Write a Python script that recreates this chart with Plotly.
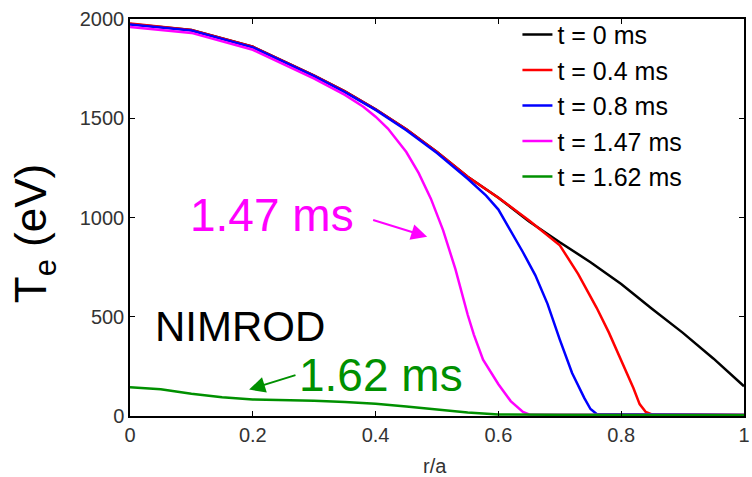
import plotly.graph_objects as go

# ---- data ----
r_black = [0, 0.1, 0.2, 0.3, 0.35, 0.4, 0.45, 0.5, 0.55, 0.6, 0.65, 0.7, 0.75, 0.8, 0.85, 0.9, 0.95, 1.0]
T_black = [1975, 1945, 1860, 1715, 1635, 1545, 1445, 1330, 1205, 1100, 980, 875, 775, 665, 540, 420, 290, 150]

r_red = [0, 0.1, 0.2, 0.3, 0.35, 0.4, 0.45, 0.5, 0.55, 0.6, 0.65, 0.7, 0.73, 0.76, 0.78, 0.8, 0.82, 0.83, 0.84, 0.85, 1.0]
T_red = [1978, 1945, 1860, 1715, 1635, 1545, 1445, 1330, 1205, 1100, 985, 860, 715, 545, 420, 280, 140, 60, 20, 8, 5]

r_blue = [0, 0.1, 0.2, 0.3, 0.35, 0.4, 0.45, 0.5, 0.55, 0.58, 0.6, 0.62, 0.64, 0.66, 0.68, 0.7, 0.72, 0.74, 0.75, 0.76, 1.0]
T_blue = [1972, 1942, 1857, 1712, 1632, 1542, 1440, 1325, 1195, 1110, 1040, 935, 825, 710, 565, 385, 217, 90, 35, 10, 5]

r_mag = [0, 0.1, 0.2, 0.3, 0.35, 0.38, 0.4, 0.42, 0.45, 0.47, 0.49, 0.51, 0.53, 0.55, 0.56, 0.575, 0.6, 0.62, 0.64, 0.65, 1.0]
T_mag = [1960, 1930, 1845, 1700, 1618, 1558, 1508, 1448, 1330, 1225, 1095, 935, 740, 510, 410, 284, 160, 75, 20, 8, 5]

r_green = [0, 0.05, 0.1, 0.15, 0.2, 0.25, 0.3, 0.35, 0.4, 0.45, 0.5, 0.55, 0.6, 0.7, 1.0]
T_green = [145, 135, 112, 95, 83, 80, 77, 70, 62, 48, 32, 18, 8, 6, 5]

names = ["t = 0 ms", "t = 0.4 ms", "t = 0.8 ms", "t = 1.47 ms", "t = 1.62 ms"]
colors = ["#000000", "#ff0000", "#0000ff", "#ff00ff", "#009000"]

x_ticks = [0, 0.2, 0.4, 0.6, 0.8, 1]
x_ticklabels = ["0", "0.2", "0.4", "0.6", "0.8", "1"]
y_ticks = [0, 500, 1000, 1500, 2000]

fig = go.Figure()
series = [(r_black, T_black), (r_red, T_red), (r_blue, T_blue), (r_mag, T_mag), (r_green, T_green)]
for (rx, ty), nm, c in zip(series, names, colors):
    fig.add_trace(go.Scatter(x=rx, y=ty, mode="lines", name=nm,
                             line=dict(color=c, width=2.5)))

axis_common = dict(showline=True, linecolor="#000", linewidth=1.5, mirror="allticks",
                   ticks="inside", ticklen=5, tickcolor="#000", tickwidth=1,
                   showgrid=False, zeroline=False, ticklabeloverflow="allow",
                   tickfont=dict(family="Liberation Sans, Arial", size=20, color="#333"))

fig.update_layout(
    width=752, height=477,
    margin=dict(l=130, r=2, t=19, b=61),
    paper_bgcolor="white", plot_bgcolor="white",
    xaxis=dict(range=[0, 1], tickvals=x_ticks, ticktext=x_ticklabels, **axis_common),
    yaxis=dict(range=[0, 2000], tickvals=y_ticks, **axis_common),
    showlegend=True,
    legend=dict(x=0.631, y=1.018, xanchor="left", yanchor="top", bgcolor="rgba(0,0,0,0)",
                font=dict(family="Liberation Sans, Arial", size=25, color="#000"),
                tracegroupgap=0),
    annotations=[
        dict(text="T<sub>e</sub> (eV)", xref="paper", yref="paper", x=-0.155, y=0.46,
             textangle=-90, showarrow=False, xanchor="center", yanchor="middle",
             font=dict(family="Liberation Sans, Arial", size=44, color="#000")),
        dict(text="r/a", xref="paper", yref="paper", x=0.497, y=-0.125, showarrow=False,
             xanchor="center", yanchor="middle",
             font=dict(family="Liberation Sans, Arial", size=20, color="#333")),
        dict(text="NIMROD", x=0.179, y=450, showarrow=False,
             font=dict(family="Liberation Sans, Arial", size=42, color="#000")),
        dict(text="1.47 ms", x=0.484, y=903, ax=0.368, ay=1014, axref="x", ayref="y",
             xanchor="right", yanchor="middle", startstandoff=18,
             showarrow=True, arrowhead=2, arrowsize=1.6, arrowwidth=2, arrowcolor="#ff00ff",
             font=dict(family="Liberation Sans, Arial", size=46, color="#ff00ff")),
        dict(text="1.62 ms", x=0.194, y=133, ax=0.2726, ay=209, axref="x", ayref="y",
             xanchor="left", yanchor="middle", startstandoff=2,
             showarrow=True, arrowhead=2, arrowsize=1.6, arrowwidth=2, arrowcolor="#009000",
             font=dict(family="Liberation Sans, Arial", size=46, color="#009000")),
    ],
)

fig.write_html("out.html", config={"displayModeBar": False},
               post_script="document.body.style.margin='0px';")
